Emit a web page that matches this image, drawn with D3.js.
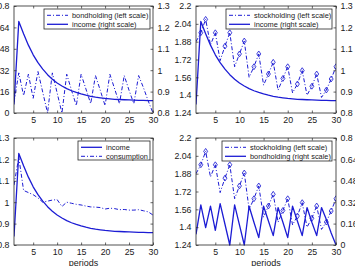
<!DOCTYPE html>
<html><head><meta charset="utf-8">
<script src="https://cdn.jsdelivr.net/npm/d3@7/dist/d3.min.js"></script>
<style>body{margin:0;background:#fff}svg{display:block}text{font-family:"Liberation Sans",Arial,sans-serif}</style>
</head><body>
<svg id="c" width="355" height="266"></svg>
<script>
// ---------- data ----------
const periods = [1,2,3,4,5,6,7,8,9,10,11,12,13,14,15,16,17,18,19,20,21,22,23,24,25,26,27,28,29,30];
const income = [0.84,1.228,1.170,1.117,1.072,1.035,1.005,0.979,0.958,0.940,0.926,0.914,0.904,0.896,0.889,0.883,0.878,0.874,0.871,0.868,0.866,0.864,0.863,0.862,0.861,0.860,0.859,0.859,0.858,0.858];
const consumption = [1.08,1.21,1.055,1.045,1.035,1.02,1.0,1.005,1.01,1.012,0.98,1.0,0.995,0.99,0.987,0.982,0.978,0.977,0.975,0.968,0.972,0.97,0.965,0.966,0.963,0.963,0.965,0.96,0.955,0.94];
const bondholding = [0.08,0.30,0.13,0.29,0.11,0.31,0.155,0.0,0.30,0.15,0.0,0.29,0.17,0.055,0.29,0.18,0.07,0.28,0.17,0.055,0.29,0.18,0.07,0.28,0.17,0.07,0.28,0.19,0.09,0.0];
const stockholding = [1.88,1.96,2.08,1.85,1.96,1.71,1.84,1.96,1.655,1.77,1.886,1.56,1.655,1.77,1.49,1.59,1.695,1.445,1.55,1.655,1.42,1.50,1.62,1.40,1.48,1.59,1.38,1.446,1.545,1.655];
const xTicks = [5,10,15,20,25,30];
const bondTicks = [0,0.16,0.32,0.48,0.64,0.8];
const stockTicks = [1.24,1.4,1.56,1.72,1.88,2.04,2.2];
const incomeTicks = [0.8,0.9,1,1.1,1.2,1.3];
const bondDomain = [0,0.8], stockDomain = [1.24,2.2], incomeDomain = [0.8,1.3];

// ---------- drawing ----------
const svg = d3.select("#c");
const BLUE = "#1c1cd4";
const DASHDOT = "4,2,1,2";

const panels = [
  {x0:14,x1:153,y0:6,y1:113,
   left:{domain:bondDomain,ticks:bondTicks}, right:{domain:incomeDomain,ticks:incomeTicks},
   series:[{v:bondholding,axis:"left",dash:DASHDOT,w:1,label:"bondholding (left scale)"},
           {v:income,axis:"right",dash:null,w:1.3,label:"income (right scale)"}],
   legend:{x:44,y:9,w:106,h:20}, xlabel:false},
  {x0:196,x1:336,y0:6,y1:113,
   left:{domain:stockDomain,ticks:stockTicks}, right:{domain:incomeDomain,ticks:incomeTicks},
   series:[{v:stockholding,axis:"left",dash:DASHDOT,w:1,marker:true,label:"stockholding (left scale)"},
           {v:income,axis:"right",dash:null,w:1.3,label:"income (right scale)"}],
   legend:{x:226,y:9,w:106,h:20}, xlabel:false},
  {x0:14,x1:153,y0:138,y1:245,
   left:{domain:incomeDomain,ticks:incomeTicks}, right:null,
   series:[{v:income,axis:"left",dash:null,w:1.3,label:"income"},
           {v:consumption,axis:"left",dash:DASHDOT,w:1,label:"consumption"}],
   legend:{x:78,y:141,w:72,h:19}, xlabel:true},
  {x0:196,x1:336,y0:138,y1:245,
   left:{domain:stockDomain,ticks:stockTicks}, right:{domain:bondDomain,ticks:bondTicks},
   series:[{v:stockholding,axis:"left",dash:DASHDOT,w:1,marker:true,label:"stockholding (left scale)"},
           {v:bondholding,axis:"right",dash:null,w:1.3,label:"bondholding (right scale)"}],
   legend:{x:222,y:141,w:110,h:20}, xlabel:true}
];

const fmt = d => String(+d.toFixed(2));

panels.forEach((p,i) => {
  const g = svg.append("g");
  const x = d3.scaleLinear().domain([1,30]).range([p.x0,p.x1]);
  const yl = d3.scaleLinear().domain(p.left.domain).range([p.y1,p.y0]);
  const yr = p.right ? d3.scaleLinear().domain(p.right.domain).range([p.y1,p.y0]) : null;

  const clipId = "clip"+i;
  svg.append("clipPath").attr("id",clipId).append("rect")
    .attr("x",p.x0).attr("y",p.y0-3).attr("width",p.x1-p.x0).attr("height",p.y1-p.y0+6);

  // series
  const pg = g.append("g").attr("clip-path",`url(#${clipId})`);
  p.series.forEach(s => {
    const y = s.axis==="left" ? yl : yr;
    const line = d3.line().x((d,j)=>x(periods[j])).y(d=>y(d));
    pg.append("path").datum(s.v).attr("d",line)
      .attr("fill","none").attr("stroke",BLUE).attr("stroke-width",s.w)
      .attr("stroke-dasharray",s.dash).attr("stroke-linejoin","round");
    if (s.marker) {
      const sym = d3.symbol().type(d3.symbolDiamond2 || d3.symbolDiamond).size(14);
      pg.selectAll(null).data(s.v.map((d,j)=>({d,j})).filter(o=>o.j>0 && o.d>s.v[o.j-1]))
        .enter().append("path").attr("d",sym)
        .attr("transform",o=>`translate(${x(periods[o.j])},${y(o.d)}) scale(0.85,1.25)`)
        .attr("fill","none").attr("stroke",BLUE).attr("stroke-width",0.8);
    }
  });

  // frame
  g.append("rect").attr("x",p.x0).attr("y",p.y0).attr("width",p.x1-p.x0).attr("height",p.y1-p.y0)
    .attr("fill","none").attr("stroke","#262626").attr("stroke-width",0.8);

  const ax = (gen, tx, ty) => g.append("g").attr("transform",`translate(${tx},${ty})`).call(gen);
  const style = sel => { sel.select(".domain").remove();
    sel.selectAll("line").attr("stroke","#262626").attr("stroke-width",0.7);
    sel.selectAll("text").attr("font-size","8.8px").attr("fill","#1a1a1a")
      .attr("font-family","'Liberation Sans',Arial,sans-serif"); };

  // bottom & top
  style(ax(d3.axisBottom(x).tickValues(xTicks).tickSize(-2.5).tickPadding(4).tickFormat(d3.format("d")),0,p.y1));
  style(ax(d3.axisTop(x).tickValues(xTicks).tickSize(-2.5).tickFormat(""),0,p.y0));
  // left
  style(ax(d3.axisLeft(yl).tickValues(p.left.ticks).tickSize(-2.5).tickPadding(4.5).tickFormat(fmt),p.x0,0));
  // right
  if (yr) style(ax(d3.axisRight(yr).tickValues(p.right.ticks).tickSize(-2.5).tickPadding(4.5).tickFormat(fmt),p.x1,0));
  else style(ax(d3.axisRight(yl).tickValues(p.left.ticks).tickSize(-2.5).tickFormat(""),p.x1,0));

  if (p.xlabel) g.append("text").attr("x",(p.x0+p.x1)/2).attr("y",265.5).attr("text-anchor","middle")
    .attr("font-size","9px").attr("fill","#1a1a1a").text("periods");

  // legend
  const L = p.legend;
  const lg = g.append("g");
  lg.append("rect").attr("x",L.x).attr("y",L.y).attr("width",L.w).attr("height",L.h)
    .attr("fill","#fff").attr("stroke","#262626").attr("stroke-width",0.8);
  p.series.forEach((s,k) => {
    const cy = L.y + 6.3 + k*9;
    lg.append("line").attr("x1",L.x+3).attr("x2",L.x+24).attr("y1",cy).attr("y2",cy)
      .attr("stroke",BLUE).attr("stroke-width",s.w).attr("stroke-dasharray",s.dash);
    lg.append("text").attr("x",L.x+28).attr("y",cy+2.6).attr("font-size","7.4px")
      .attr("fill","#1a1a1a").text(s.label);
  });
});
</script>
</body></html>
